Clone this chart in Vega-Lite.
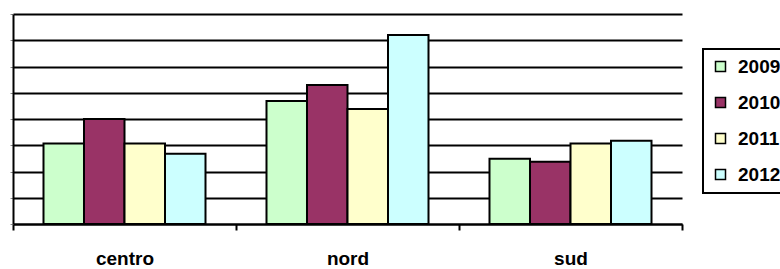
{
  "$schema": "https://vega.github.io/schema/vega-lite/v6.json",
  "width": 669,
  "height": 210,
  "autosize": {"type": "none"},
  "padding": {"left": 13, "top": 14, "right": 98, "bottom": 45},
  "background": "white",
  "config": {
    "view": {"stroke": null},
    "font": "Liberation Sans",
    "legend": {"strokeWidth": 2}
  },
  "data": {
    "values": [
      {"region": "centro", "year": "2009", "value": 3.07},
      {"region": "centro", "year": "2010", "value": 4.0},
      {"region": "centro", "year": "2011", "value": 3.07},
      {"region": "centro", "year": "2012", "value": 2.68},
      {"region": "nord", "year": "2009", "value": 4.69},
      {"region": "nord", "year": "2010", "value": 5.3},
      {"region": "nord", "year": "2011", "value": 4.38},
      {"region": "nord", "year": "2012", "value": 7.2},
      {"region": "sud", "year": "2009", "value": 2.49},
      {"region": "sud", "year": "2010", "value": 2.37},
      {"region": "sud", "year": "2011", "value": 3.07},
      {"region": "sud", "year": "2012", "value": 3.17}
    ]
  },
  "mark": {"type": "bar", "stroke": "black", "strokeWidth": 2, "opacity": 1},
  "encoding": {
    "x": {
      "field": "region",
      "type": "nominal",
      "sort": ["centro", "nord", "sud"],
      "scale": {"paddingInner": 0, "paddingOuter": 0},
      "axis": {
        "title": null,
        "labelAngle": 0,
        "labelFont": "Liberation Sans",
        "labelFontSize": 19,
        "labelFontWeight": "bold",
        "labelColor": "black",
        "labelPadding": 19,
        "tickBand": "extent",
        "tickSize": 6,
        "tickColor": "black",
        "tickWidth": 2,
        "domainColor": "black",
        "domainWidth": 2
      }
    },
    "xOffset": {
      "field": "year",
      "type": "nominal",
      "scale": {"paddingInner": 0, "paddingOuter": 0.753}
    },
    "y": {
      "field": "value",
      "type": "quantitative",
      "scale": {"domain": [0, 8], "nice": false},
      "axis": {
        "title": null,
        "labels": false,
        "values": [0, 1, 2, 3, 4, 5, 6, 7, 8],
        "tickSize": 3,
        "tickColor": "#888888",
        "tickWidth": 1,
        "domainColor": "black",
        "domainWidth": 2,
        "grid": true,
        "gridColor": "black",
        "gridWidth": 2,
        "gridOpacity": 1
      }
    },
    "fill": {
      "field": "year",
      "type": "nominal",
      "scale": {
        "domain": ["2009", "2010", "2011", "2012"],
        "range": ["#CCFFCC", "#993366", "#FFFFCC", "#CCFFFF"]
      },
      "legend": {
        "title": null,
        "orient": "none",
        "legendX": 690,
        "legendY": 35,
        "strokeColor": "black",
        "fillColor": "white",
        "padding": 8,
        "symbolType": "square",
        "symbolSize": 100,
        "symbolStrokeColor": "black",
        "symbolStrokeWidth": 1.5,
        "symbolOpacity": 1,
        "labelFont": "Liberation Sans",
        "labelFontSize": 19,
        "labelFontWeight": "bold",
        "labelColor": "black",
        "labelOffset": 8,
        "rowPadding": 16
      }
    }
  }
}
